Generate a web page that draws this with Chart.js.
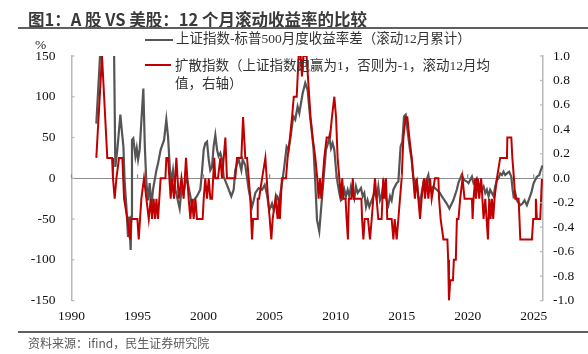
<!DOCTYPE html>
<html>
<head>
<meta charset="utf-8">
<script src="https://cdn.jsdelivr.net/npm/chart.js@4"></script>
<style>
  body { margin: 0; background: #fff; }
  #wrap { position: relative; width: 588px; height: 354px; overflow: hidden; font-family: "Noto Sans CJK SC", sans-serif; }
  #chart { position: absolute; left: 0; top: 0; }
  .abs { position: absolute; white-space: nowrap; }
  #title { left: 28px; top: 8px; font-size: 16.5px; font-weight: bold; color: #3a3a3a; line-height: 22px; }
  .rule { position: absolute; left: 18px; width: 570px; height: 2px; background: #5f5f5f; }
  .leg { font-family: "Liberation Serif", "Noto Sans CJK SC", serif; font-size: 13.5px; color: #333; line-height: 18px; }
  .swatch { position: absolute; height: 2px; }
  #src { left: 28px; top: 335px; font-size: 12px; color: #595959; line-height: 16px; }
  #pct { left: 35px; top: 37px; font-family: "Liberation Serif", serif; font-size: 13.5px; color: #222; }
</style>
</head>
<body>
<div id="wrap">
  <canvas id="chart" width="588" height="354"></canvas>
  <div id="title" class="abs">图1：A 股 VS 美股：12 个月滚动收益率的比较</div>
  <div class="rule" style="top:27px"></div>
  <div class="swatch" style="left:145px; top:39px; width:28px; background:#555;"></div>
  <div class="abs leg" style="left:176px; top:30px;">上证指数-标普500月度收益率差（滚动12月累计）</div>
  <div class="swatch" style="left:145px; top:64px; width:26px; background:#c00000;"></div>
  <div class="abs leg" style="left:175px; top:57px;">扩散指数（上证指数跑赢为1，否则为-1，滚动12月均<br>值，右轴）</div>
  <div id="pct" class="abs">%</div>
  <div class="rule" style="top:331px"></div>
  <div id="src" class="abs">资料来源：ifind，民生证券研究院</div>
</div>
<script>
const yearTicks = [1990, 1995, 2000, 2005, 2010, 2015, 2020, 2025];

// 上证指数-标普500 12个月滚动收益率差 (%)
const grayYears = [
  1991.88, 1992.16, 1992.4, 1992.7, 1993.0, 1993.22, 1993.32, 1993.47, 1993.7, 1993.83, 1993.93,
  1994.03, 1994.15, 1994.28, 1994.36, 1994.43, 1994.48, 1994.53, 1994.58, 1994.68, 1994.84, 1994.94,
  1995.04, 1995.16, 1995.29, 1995.44, 1995.55, 1995.67, 1995.8, 1995.92, 1996.05, 1996.17, 1996.43,
  1996.55, 1996.75, 1997.01, 1997.18, 1997.31, 1997.44, 1997.56, 1997.69, 1997.87, 1998.19, 1998.37,
  1998.49, 1998.62, 1998.74, 1999.0, 1999.12, 1999.25, 1999.5, 1999.75, 1999.88, 2000.01, 2000.13,
  2000.26, 2000.39, 2000.51, 2000.64, 2000.76, 2000.89, 2001.02, 2001.14, 2001.27, 2001.4, 2001.52,
  2001.77, 2002.1, 2002.28, 2002.4, 2002.53, 2002.66, 2002.86, 2002.96, 2003.16, 2003.42, 2003.67,
  2003.8, 2003.92, 2004.17, 2004.43, 2004.63, 2004.8, 2004.98, 2005.18, 2005.31, 2005.56, 2005.73,
  2005.86, 2005.99, 2006.11, 2006.29, 2006.44, 2006.59, 2006.79, 2006.94, 2007.12, 2007.25, 2007.5,
  2007.7, 2007.88, 2008.06, 2008.21, 2008.33, 2008.46, 2008.59, 2008.76, 2008.89, 2009.02, 2009.14,
  2009.27, 2009.42, 2009.52, 2009.65, 2009.77, 2009.9, 2010.03, 2010.15, 2010.28, 2010.4, 2010.53,
  2010.66, 2010.78, 2010.91, 2011.04, 2011.16, 2011.29, 2011.41, 2011.54, 2011.67, 2011.92, 2012.05,
  2012.17, 2012.3, 2012.42, 2012.55, 2012.85, 2012.98, 2013.1, 2013.23, 2013.36, 2013.48, 2013.61,
  2013.74, 2013.86, 2013.99, 2014.12, 2014.24, 2014.37, 2014.62, 2014.75, 2014.82, 2014.92, 2015.05,
  2015.18, 2015.3, 2015.5, 2015.63, 2015.76, 2015.88, 2016.01, 2016.14, 2016.26, 2016.39, 2016.51,
  2016.64, 2016.77, 2016.89, 2017.02, 2017.15, 2017.4, 2017.65, 2017.9, 2018.03, 2018.41, 2018.61,
  2018.91, 2019.17, 2019.29, 2019.54, 2019.72, 2019.94, 2020.06, 2020.32, 2020.44, 2020.69, 2020.82,
  2021.07, 2021.2, 2021.33, 2021.45, 2021.58, 2021.7, 2021.83, 2021.96, 2022.08, 2022.21, 2022.34,
  2022.46, 2022.59, 2022.71, 2022.84, 2022.97, 2023.14, 2023.3, 2023.4, 2023.47, 2023.6, 2023.72,
  2023.98, 2024.15, 2024.3, 2024.48, 2024.61, 2024.81, 2024.99, 2025.11, 2025.24, 2025.42, 2025.49,
  2025.67
];
const grayValues = [
  67, 150, 240, 300, 250, 160, 14, 35, 78, 55, 39,
  -6, -33, -72, -47, -72, -88, -47, 47, 49, 27, 37,
  23, 35, 70, 110, 40, -6, -27, -6, -35, -14, 10,
  18, 35, 47, 72, 51, 14, -6, 10, -14, -37, -6,
  -18, -6, 0, -22, -35, -27, -22, -14, 8, 35, 43,
  45, 23, 10, 14, 39, 53, 35, 27, 31, 23, 2,
  -8, -22, -14, 10, 18, 23, 10, 23, 16, -14, -35,
  -27, -18, -12, -14, -8, -20, -39, -31, -39, -22, -27,
  -14, 0, 14, 39, 35, 51, 76, 72, 88, 80, 104,
  117, 108, 76, 55, 35, -6, -51, -65, -39, -14, 10,
  35, 43, 51, 37, 43, 35, 10, -6, -18, -27, -25,
  -14, -22, -14, -22, -10, -18, -25, -10, -18, -12, -22,
  -18, -35, -27, -35, -22, -14, -25, -10, -27, -22, -6,
  -18, -27, -33, -22, -27, -14, -6, -4, 14, 39, 45,
  76, 78, 51, 35, 22, 2, -6, -2, -22, -31, -18,
  -6, -10, -2, 4, -14, -10, -14, -18, -22, -31, -37,
  -27, -14, -6, 4, -2, -4, -6, 2, -6, 0, -6,
  -14, -10, -18, -14, -22, -14, -18, -22, -10, -2, 0,
  6, 4, 8, 4, 6, 8, 2, -14, -22, -18, -27,
  -33, -31, -27, -33, -27, -18, -6, -2, 2, 4, 8,
  16
];

// 扩散指数 (右轴)
const redYears = [
  1991.88, 1992.31, 1992.71, 1993.07, 1993.14, 1993.27, 1993.4, 1993.6, 1993.85, 1993.98, 1994.23,
  1994.43, 1994.53, 1994.99, 1995.09, 1995.19, 1995.29, 1995.49, 1995.67, 1995.85, 1996.0, 1996.1,
  1996.22, 1996.33, 1996.43, 1996.55, 1996.75, 1997.11, 1997.18, 1997.31, 1997.51, 1997.61, 1997.76,
  1997.94, 1998.12, 1998.32, 1998.49, 1998.67, 1998.87, 1999.0, 1999.12, 1999.25, 1999.38, 1999.5,
  1999.93, 2000.01, 2000.13, 2000.26, 2000.39, 2000.51, 2000.64, 2000.81, 2000.89, 2001.09, 2001.27,
  2001.4, 2001.65, 2001.77, 2002.4, 2002.53, 2002.86, 2002.99, 2003.16, 2003.29, 2003.42, 2003.54,
  2003.67, 2003.75, 2004.05, 2004.1, 2004.2, 2004.43, 2004.68, 2004.88, 2005.01, 2005.13, 2005.23,
  2005.44, 2005.61, 2005.68, 2005.78, 2005.93, 2006.24, 2006.36, 2006.54, 2006.7, 2006.83, 2007.05,
  2007.2, 2007.35, 2007.45, 2007.55, 2007.8, 2007.9, 2008.0, 2008.1, 2008.26, 2008.46, 2008.61,
  2008.71, 2008.81, 2008.91, 2009.02, 2009.14, 2009.32, 2009.57, 2009.72, 2009.9, 2010.03, 2010.15,
  2010.28, 2010.4, 2010.5, 2010.6, 2010.75, 2010.83, 2010.93, 2011.0, 2011.2, 2011.3, 2011.38,
  2011.95, 2012.0, 2012.1, 2012.2, 2012.45, 2012.6, 2012.73, 2012.85, 2012.98, 2013.1, 2013.23,
  2013.48, 2013.61, 2013.69, 2013.81, 2013.91, 2014.24, 2014.37, 2014.47, 2014.62, 2014.75, 2014.87,
  2015.0, 2015.13, 2015.3, 2015.43, 2015.58, 2015.76, 2015.88, 2016.0, 2016.13, 2016.26, 2016.39,
  2016.51, 2016.69, 2016.77, 2016.89, 2017.02, 2017.15, 2017.27, 2017.52, 2017.78, 2017.83, 2017.95,
  2018.16, 2018.46, 2018.52, 2018.58, 2018.68, 2018.88, 2018.95, 2019.1, 2019.18, 2019.3, 2019.43,
  2019.61, 2019.76, 2020.32, 2020.37, 2020.44, 2020.57, 2020.62, 2020.77, 2020.87, 2021.02, 2021.2,
  2021.33, 2021.53, 2021.63, 2021.73, 2021.83, 2021.93, 2022.03, 2022.21, 2022.46, 2022.97, 2023.0,
  2023.3, 2023.38, 2023.5, 2023.6, 2023.85, 2023.92, 2023.98, 2024.86, 2024.96, 2025.12, 2025.16,
  2025.24, 2025.49, 2025.62
];
const redValues = [
  0.167, 1, 0.167, 0.167, 0, -0.167, 0, 0.167, 0.167, -0.167, -0.333,
  -0.5, -0.333, -0.333, -0.5, -0.333, -0.167, 0, -0.167, -0.333, -0.167, -0.333,
  -0.167, -0.333, -0.167, -0.333, 0, 0, 0.167, 0.167, -0.167, 0, -0.167,
  0.167, -0.167, 0, -0.167, 0.167, -0.167, -0.333, -0.167, -0.333, -0.167, -0.333,
  -0.333, -0.167, 0, -0.167, 0, -0.167, -0.167, 0.167, 0, 0, 0.167,
  0, 0.333, 0, 0, 0.167, 0.167, 0.5, 0.167, 0.167, 0, -0.167,
  -0.5, -0.333, -0.333, -0.167, -0.167, 0, 0.167, -0.167, -0.333, -0.5, -0.333,
  -0.167, -0.333, -0.167, -0.333, 0, 0, 0.167, 0.333, 0.5, 0.667, 0.667,
  1, 1, 0.833, 1, 1, 0.833, 0.667, 0.5, 0.333, 0.167, 0,
  -0.167, 0, -0.167, 0, 0.167, 0.333, 0.333, 0.5, 0.667, 0.5, 0.167,
  0, -0.167, 0, -0.167, -0.167, -0.333, -0.5, -0.167, -0.167, 0, -0.167,
  -0.167, -0.333, -0.5, -0.333, -0.333, -0.5, -0.333, -0.167, 0, -0.167, -0.333,
  -0.333, 0, -0.167, 0, -0.333, -0.333, -0.5, -0.333, -0.5, -0.333, -0.167,
  0, 0.333, 0.5, 0.5, 0.333, 0.167, 0, -0.167, 0, -0.167, -0.333,
  -0.167, 0, -0.167, 0, -0.167, 0, -0.167, 0, 0, -0.167, -0.333,
  -0.5, -0.5, -0.667, -1, -0.833, -0.833, -0.667, -0.667, -0.333, -0.333, -0.167,
  0, -0.167, -0.167, -0.333, -0.167, 0, -0.167, 0, -0.167, 0, -0.333,
  -0.167, -0.5, -0.167, -0.333, -0.167, -0.333, -0.167, 0, 0.167, 0.167, 0.333,
  0.333, 0.167, 0, -0.167, -0.167, -0.333, -0.5, -0.5, -0.333, -0.333, -0.167,
  -0.333, -0.333, 0
];

const grayPoints = grayYears.map((x, i) => ({ x, y: grayValues[i] }));
const redPoints = redYears.map((x, i) => ({ x, y: redValues[i] }));

const tickFont = { family: "'Liberation Serif', serif", size: 13.5 };

// Excel 风格的内向刻度线
const innerTicks = {
  id: "innerTicks",
  afterDraw(chart) {
    const { ctx, chartArea, scales } = chart;
    ctx.save();
    ctx.lineWidth = 1.2;
    ctx.strokeStyle = "#b8b8b8";
    scales.y.ticks.forEach((t) => {
      const py = scales.y.getPixelForValue(t.value);
      ctx.beginPath();
      ctx.moveTo(chartArea.left, py);
      ctx.lineTo(chartArea.left + 3, py);
      ctx.stroke();
    });
    scales.y2.ticks.forEach((t) => {
      const py = scales.y2.getPixelForValue(t.value);
      ctx.beginPath();
      ctx.moveTo(chartArea.right, py);
      ctx.lineTo(chartArea.right - 3, py);
      ctx.stroke();
    });
    const y0 = scales.y.getPixelForValue(0);
    ctx.strokeStyle = "#8c8c8c";
    scales.x.ticks.forEach((t) => {
      const px = scales.x.getPixelForValue(t.value);
      ctx.beginPath();
      ctx.moveTo(px, y0);
      ctx.lineTo(px, y0 - 4);
      ctx.stroke();
    });
    ctx.restore();
  },
};

new Chart(document.getElementById("chart"), {
  type: "line",
  data: {
    datasets: [
      {
        label: "上证指数-标普500月度收益率差（滚动12月累计）",
        data: grayPoints,
        yAxisID: "y",
        borderColor: "#555555",
        borderWidth: 2.2,
        pointRadius: 0,
        tension: 0,
        order: 2,
      },
      {
        label: "扩散指数（上证指数跑赢为1，否则为-1，滚动12月均值，右轴）",
        data: redPoints,
        yAxisID: "y2",
        borderColor: "#c00000",
        borderWidth: 2,
        pointRadius: 0,
        tension: 0,
        order: 1,
      },
    ],
  },
  options: {
    responsive: false,
    animation: false,
    layout: { padding: { top: 56, left: 0, right: 0, bottom: 0 } },
    plugins: { legend: { display: false }, tooltip: { enabled: false } },
    scales: {
      x: {
        type: "linear",
        min: 1990,
        max: 2025.7,
        afterBuildTicks(scale) {
          scale.ticks = yearTicks.map((v) => ({ value: v }));
        },
        afterFit(scale) {
          scale.height = 53.4;
        },
        ticks: {
          callback: (v) => String(v),
          font: tickFont,
          color: "#111",
          padding: 8,
          maxRotation: 0,
          autoSkip: false,
        },
        grid: { display: false, drawTicks: false },
        border: { display: false },
      },
      y: {
        position: "left",
        min: -150,
        max: 150,
        afterFit(scale) {
          scale.width = 71.5;
        },
        ticks: { stepSize: 50, font: tickFont, color: "#111", padding: 16 },
        grid: {
          drawTicks: false,
          color: (c) => (c.tick && c.tick.value === 0 ? "#8c8c8c" : "rgba(0,0,0,0)"),
          lineWidth: 1,
        },
        border: { display: true, color: "#b8b8b8", width: 1.5 },
      },
      y2: {
        position: "right",
        min: -1,
        max: 1,
        afterFit(scale) {
          scale.width = 45;
        },
        ticks: {
          stepSize: 0.2,
          font: tickFont,
          color: "#111",
          padding: 10,
          callback: (v) => Number(v).toFixed(1),
        },
        grid: { display: false, drawTicks: false },
        border: { display: true, color: "#b8b8b8", width: 1.5 },
      },
    },
  },
  plugins: [innerTicks],
});
</script>
</body>
</html>
